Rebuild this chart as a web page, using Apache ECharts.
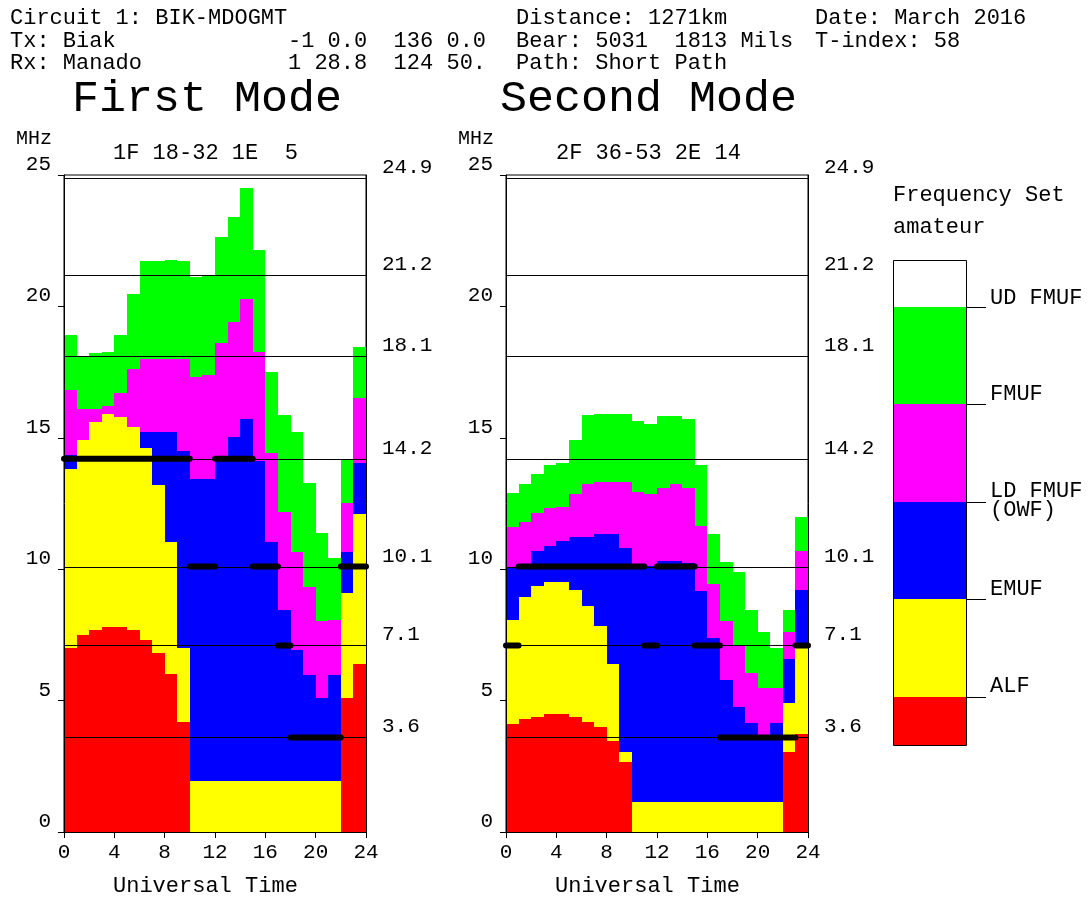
<!DOCTYPE html>
<html><head><meta charset="utf-8">
<script src="https://cdn.jsdelivr.net/npm/echarts@6/dist/echarts.min.js"></script>
<style>html,body{margin:0;padding:0;background:#fff}#c{width:1091px;height:898px}</style>
</head><body><div id="c"></div>
<script>
// ---- data ----
const hours = [0,1,2,3,4,5,6,7,8,9,10,11,12,13,14,15,16,17,18,19,20,21,22,23];
const xTicks = [0,4,8,12,16,20,24];
const freqSet = [24.9, 21.2, 18.1, 14.2, 10.1, 7.1, 3.6];

// First Mode boundaries (MHz) per UT hour
const m1Alf    = [7.0,7.5,7.7,7.8,7.8,7.7,7.3,6.8,6.0,4.2,0,0,0,0,0,0,0,0,0,0,0,0,5.1,6.4];
const m1Emuf   = [13.8,14.9,15.6,15.9,15.8,15.4,14.6,13.2,11.05,7.0,1.93,1.93,1.93,1.93,1.93,1.93,1.93,1.93,1.93,1.93,1.93,1.93,9.1,12.1];
const m1Owf    = [14.35,14.9,15.6,15.9,15.8,15.4,15.23,15.23,15.23,14.5,13.42,13.42,14.1,15.03,15.7,14.1,11.05,8.45,6.93,5.98,5.09,5.98,10.67,14.03];
const m1Fmuf   = [16.8,16.1,16.1,16.2,16.7,17.6,18.0,18.0,18.0,18.0,17.32,17.38,18.6,19.4,20.3,18.27,14.41,12.17,10.67,9.32,8.01,8.07,12.51,16.53];
const m1UdFmuf = [18.93,18.08,18.21,18.27,18.93,20.49,21.73,21.73,21.78,21.73,21.1,21.15,22.65,23.41,24.52,22.14,17.51,15.87,15.23,13.27,11.39,10.42,14.16,18.46];
// usable frequency segments [freq, fromHour, toHour]
const m1Usable = [[14.2,0,10],[14.2,12,15],[10.1,10,12],[10.1,15,17],[10.1,22,24],[7.1,17,18],[3.6,18,22]];

// Second Mode
const m2Alf    = [4.11,4.3,4.37,4.49,4.49,4.37,4.17,3.98,3.47,2.67,0,0,0,0,0,0,0,0,0,0,0,0,3.05,3.72];
const m2Emuf   = [8.08,8.95,9.35,9.5,9.5,9.19,8.59,7.82,6.4,3.05,1.15,1.15,1.15,1.15,1.15,1.15,1.15,1.15,1.15,1.15,1.15,1.15,4.9,7.05];
const m2Owf    = [10.1,10.15,10.69,10.88,11.07,11.22,11.22,11.35,11.35,10.82,10.18,10.12,10.31,10.31,10.24,9.16,7.38,5.8,4.76,4.15,3.7,4.15,6.58,9.19];
const m2Fmuf   = [11.62,11.79,12.13,12.34,12.38,12.85,13.23,13.3,13.3,13.3,12.92,12.85,13.1,13.23,13.1,11.64,9.42,8.02,7.06,6.05,5.47,5.47,7.61,10.69];
const m2UdFmuf = [12.9,13.23,13.61,13.95,14.04,14.92,15.87,15.92,15.92,15.92,15.65,15.52,15.84,15.84,15.71,13.96,11.35,10.28,9.9,8.46,7.61,7.0,8.46,11.99];
const m2Usable = [[10.1,1,11],[10.1,12,15],[7.1,0,1],[7.1,11,12],[7.1,15,17],[7.1,23,24],[3.6,17,23]];

const legendNames = ['UD FMUF','FMUF','LD FMUF','EMUF','ALF'];

// ---- styling ----
const FONT = '"Liberation Mono","DejaVu Sans Mono",monospace';
const C = {red:'#ff0000', yellow:'#ffff00', blue:'#0000ff', magenta:'#ff00ff', green:'#00ff00'};

function bandData(lo, hi){
  const out = [];
  for (let i = 0; i < hours.length; i++){
    const a = lo ? lo[i] : 0;
    if (hi[i] > a) out.push([hours[i], a, hi[i]]);
  }
  return out;
}
function rectRender(color){
  return function(params, api){
    const x = api.value(0), lo = api.value(1), hi = api.value(2);
    const p0 = api.coord([x, hi]), p1 = api.coord([x + 1, lo]);
    const x0 = Math.round(p0[0]), x1 = Math.round(p1[0]);
    const y0 = Math.round(p0[1]), y1 = Math.round(p1[1]);
    return {type:'rect', shape:{x:x0, y:y0, width:x1-x0, height:y1-y0}, style:{fill:color}};
  };
}
function hlineRender(params, api){
  const v = api.value(0);
  const a = api.coord([0, v]), b = api.coord([24, v]);
  const y = Math.round(a[1]) + 0.5;
  return {type:'line', shape:{x1:a[0], y1:y, x2:b[0], y2:y}, style:{stroke:'#000', lineWidth:1.2}};
}
function segRender(params, api){
  const f = api.value(0), s = api.value(1), e = api.value(2);
  const a = api.coord([s, f]), b = api.coord([e, f]);
  return {type:'line', shape:{x1:a[0], y1:a[1], x2:b[0], y2:b[1]}, style:{stroke:'#000', lineWidth:6, lineCap:'round'}};
}
function panelSeries(g, alf, emuf, owf, fmuf, ud, usable){
  const ax = {xAxisIndex:g, yAxisIndex:g*2};
  const mk = (name, lo, hi, color) => Object.assign({
    type:'custom', name, renderItem:rectRender(color), data:bandData(lo, hi),
    encode:{x:0, y:[1,2]}, z:2, silent:true, animation:false
  }, ax);
  return [
    mk('ALF', null, alf, C.red),
    mk('EMUF', alf, emuf, C.yellow),
    mk('OWF', emuf, owf, C.blue),
    mk('FMUF', owf, fmuf, C.magenta),
    mk('UD FMUF', fmuf, ud, C.green),
    Object.assign({type:'custom', renderItem:hlineRender, data:freqSet.map(v=>[v]), encode:{y:0}, z:3, silent:true, animation:false}, ax),
    Object.assign({type:'custom', renderItem:segRender, data:usable, encode:{y:0, x:[1,2]}, z:4, silent:true, animation:false}, ax)
  ];
}
function xAxisCfg(g){
  return {type:'value', gridIndex:g, min:0, max:24, interval:4, z:6,
    axisLine:{show:true, onZero:false, lineStyle:{color:'#000', width:1}},
    axisTick:{show:true, length:6, lineStyle:{color:'#000'}},
    axisLabel:{color:'#000', fontFamily:FONT, fontSize:21, margin:10,
      customValues: xTicks},
    splitLine:{show:false}};
}
function yAxesCfg(g){
  return [
    {type:'value', gridIndex:g, min:0, max:25, interval:5, position:'left', z:6,
      axisLine:{show:true, onZero:false, lineStyle:{color:'#000'}},
      axisTick:{show:true, length:6, lineStyle:{color:'#000'}},
      axisLabel:{color:'#000', fontFamily:FONT, fontSize:21, margin:13, verticalAlign:'bottom'},
      splitLine:{show:false}},
    {type:'value', gridIndex:g, min:0, max:25, position:'right', z:6,
      axisLine:{show:true, onZero:false, lineStyle:{color:'#000'}},
      axisTick:{show:false},
      axisLabel:{color:'#000', fontFamily:FONT, fontSize:21, margin:16, verticalAlign:'bottom',
        customValues: freqSet, formatter: v => Number(v).toFixed(1)},
      splitLine:{show:false}}
  ];
}

function txt(text, x, y, size, align){
  return {type:'text', silent:true, z:10, style:{text, x, y, fill:'#000', font: size + 'px ' + FONT, align: align || 'left', verticalAlign:'middle'}};
}
const graphics = [
  txt('Circuit 1: BIK-MDOGMT', 10, 18, 22), txt('Distance: 1271km', 516, 18, 22), txt('Date: March 2016', 815, 18, 22),
  txt('Tx: Biak', 10, 41, 22), txt('-1 0.0  136 0.0', 288, 41, 22), txt('Bear: 5031  1813 Mils', 516, 41, 22), txt('T-index: 58', 815, 41, 22),
  txt('Rx: Manado', 10, 63, 22), txt('1 28.8  124 50.', 288, 63, 22), txt('Path: Short Path', 516, 63, 22),
  txt('First Mode', 72, 99, 45), txt('Second Mode', 500, 99, 45),
  txt('MHz', 34, 139, 20, 'center'), txt('MHz', 476, 139, 20, 'center'),
  txt('1F 18-32 1E  5', 113, 153, 22), txt('2F 36-53 2E 14', 556, 153, 22),
  txt('Universal Time', 113, 886, 22), txt('Universal Time', 555, 886, 22),
  txt('Frequency Set', 893, 195, 22), txt('amateur', 893, 227, 22)
];
// legend colour bar
const lgTop = [260, 307, 404, 502, 599, 697], lgBottom = 745;
const lgColors = ['#ffffff', C.green, C.magenta, C.blue, C.yellow, C.red];
for (let i = 0; i < lgColors.length; i++){
  const y0 = lgTop[i], y1 = (i < lgColors.length - 1) ? lgTop[i+1] : lgBottom;
  graphics.push({type:'rect', silent:true, z:9, shape:{x:893, y:y0, width:73, height:y1-y0}, style:{fill:lgColors[i]}});
}
graphics.push({type:'rect', silent:true, z:10, shape:{x:893.5, y:260.5, width:73, height:485}, style:{fill:null, stroke:'#000', lineWidth:1}});
const lgLabelY = [298, 394, 491, 589, 686];
for (let i = 1; i < 6; i++){
  graphics.push({type:'line', silent:true, z:10, shape:{x1:966, y1:lgTop[i]+0.5, x2:986, y2:lgTop[i]+0.5}, style:{stroke:'#000', lineWidth:1}});
  graphics.push(txt(legendNames[i-1], 990, lgLabelY[i-1], 22));
}
graphics.push(txt('(OWF)', 990, 510, 22));

const chart = echarts.init(document.getElementById('c'), null, {renderer:'canvas'});
chart.setOption({
  backgroundColor:'#fff',
  animation:false,
  grid:[
    {left:64, top:175, width:302, height:657, show:true, borderColor:'#000', borderWidth:1, backgroundColor:'#fff', containLabel:false},
    {left:506, top:175, width:302, height:657, show:true, borderColor:'#000', borderWidth:1, backgroundColor:'#fff', containLabel:false}
  ],
  xAxis:[xAxisCfg(0), xAxisCfg(1)],
  yAxis:[].concat(yAxesCfg(0), yAxesCfg(1)),
  series:[].concat(
    panelSeries(0, m1Alf, m1Emuf, m1Owf, m1Fmuf, m1UdFmuf, m1Usable),
    panelSeries(1, m2Alf, m2Emuf, m2Owf, m2Fmuf, m2UdFmuf, m2Usable)
  ),
  graphic: graphics
});
</script></body></html>
